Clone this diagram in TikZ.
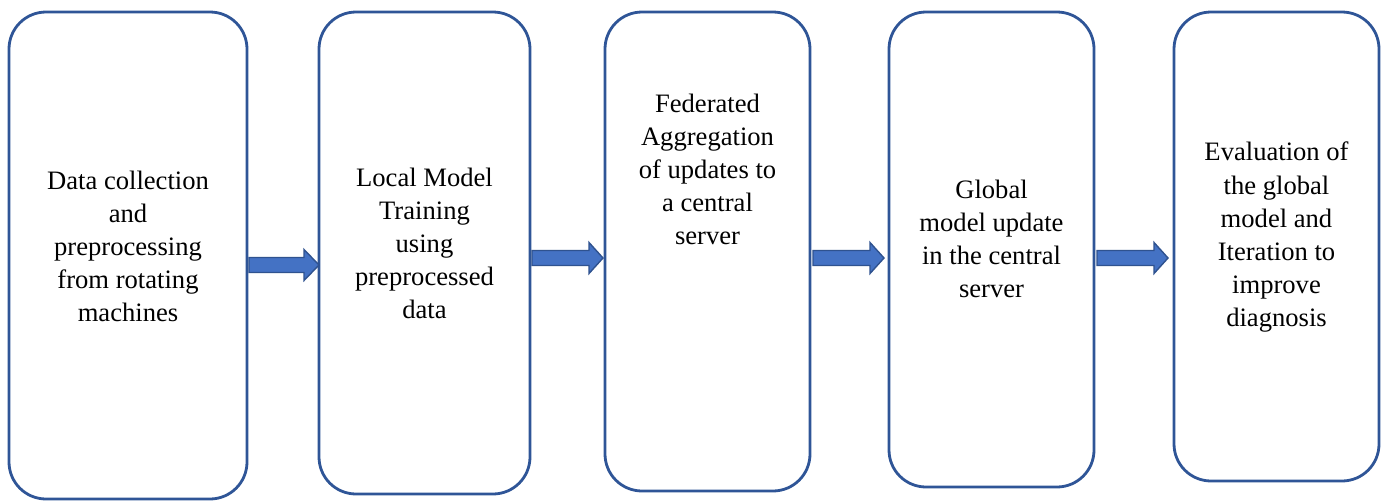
\documentclass[tikz,border=0pt]{standalone}
\usepackage{fontspec}
\setmainfont{Liberation Serif}
\definecolor{boxline}{HTML}{2F5597}
\definecolor{arrfill}{HTML}{4472C4}
\definecolor{arrline}{HTML}{2F528F}
\begin{document}
\begin{tikzpicture}[x=1pt,y=-1pt,
  box/.style={draw=boxline, line width=2.8pt, rounded corners=37pt, fill=white, inner sep=0pt, rectangle},
  txt/.style={align=center, font=\fontsize{26.6}{33}\selectfont, inner sep=0pt, text=black},
  barrow/.pic={
    \path[fill=arrfill, draw=arrline, line width=1.4pt, line join=miter]
      (0,-7.5) -- (\headbase,-7.5) -- (\headbase,-15.5) -- (\alen,0) -- (\headbase,15.5) -- (\headbase,7.5) -- (0,7.5) -- cycle;
  }]
\useasboundingbox (0,0) rectangle (1383,501);
\fill[white] (0,0) rectangle (1383,501);

\node[box, minimum width=238pt, minimum height=487pt] (b1) at (128,255.5) {};
\node[box, minimum width=211pt, minimum height=482pt] (b2) at (424.5,253) {};
\node[box, minimum width=205pt, minimum height=479pt] (b3) at (707.5,251.5) {};
\node[box, minimum width=205pt, minimum height=475pt] (b4) at (991.5,249.5) {};
\node[box, minimum width=205pt, minimum height=469pt] (b5) at (1276.5,246.5) {};

\node[txt] (t1) at (128,246) {Data collection\\and\\preprocessing\\from rotating\\machines};
\node[txt] (t2) at (424.5,243) {Local Model\\Training\\using\\preprocessed\\data};
\node[txt] (t3) at (707.5,169) {Federated\\Aggregation\\of updates to\\a central\\server};
\node[txt] (t4) at (991.5,238.5) {Global\\model update\\in the central\\server};
\node[txt] (t5) at (1276.5,237) {Evaluation of\\the global\\model and\\Iteration to\\improve\\diagnosis};

\def\headbase{55}\def\alen{70}
\path (249,265) pic {barrow};
\def\headbase{57}\def\alen{71}
\path (532,258) pic {barrow};
\path (813,258) pic {barrow};
\path (1097,258) pic {barrow};
\end{tikzpicture}
\end{document}
